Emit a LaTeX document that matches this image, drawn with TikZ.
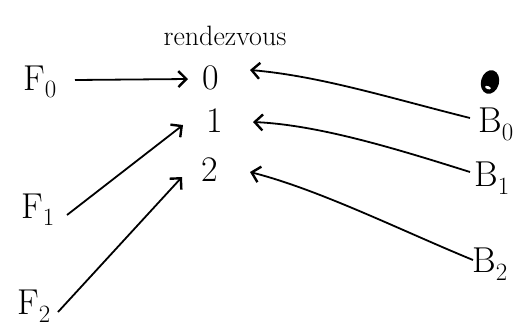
\documentclass[tikz,border=0pt]{standalone}
\usetikzlibrary{arrows.meta,calc}
\begin{document}
\begin{tikzpicture}[x=1pt,y=-1pt,
  lbl/.style={font=\fontsize{36}{38}\selectfont, inner sep=2pt},
  num/.style={font=\fontsize{36}{38}\selectfont, inner sep=2pt},
  link/.style={line width=1.8pt, -{Straight Barb[length=8pt,width=16pt,line width=2.4pt]}}]
\useasboundingbox (0,0) rectangle (524,330);
\node[font=\fontsize{28}{30}\selectfont] (title) at (225,36) {rendezvous};
\node[num] (n0) at (211,78) {0};
\node[num] (n1) at (215,121) {1};
\node[num] (n2) at (210,170) {2};
\node[lbl] (f0) at (40,82) {F$_0$};
\node[lbl] (f1) at (38,210) {F$_1$};
\node[lbl] (f2) at (34,306) {F$_2$};
\node[lbl] (b0) at (496,124) {B$_0$};
\node[lbl] (b1) at (492,178) {B$_1$};
\node[lbl] (b2) at (490,264) {B$_2$};
\coordinate (blob) at (490,82);
\fill[rotate around={-15:(blob)}] (blob) ellipse (9pt and 12pt);
\fill[white,rotate around={-20:(blob)}] ($(blob)+(0,6)$) ellipse (3pt and 1.5pt);
\draw[link] (75,80) coordinate (s0) -- (188,79) coordinate (e0);
\draw[link] (67,215) coordinate (s1) -- (183,125) coordinate (e1);
\draw[link] (58,312) coordinate (s2) -- (182,177) coordinate (e2);
\draw[link] (470,118) coordinate (t0) .. controls (390,98) and (320,76) .. (250,70) coordinate (u0);
\draw[link] (470,172) coordinate (t1) .. controls (400,150) and (320,125) .. (253,122) coordinate (u1);
\draw[link] (473,260) coordinate (t2) .. controls (400,230) and (320,190) .. (250,172) coordinate (u2);
\end{tikzpicture}
\end{document}
